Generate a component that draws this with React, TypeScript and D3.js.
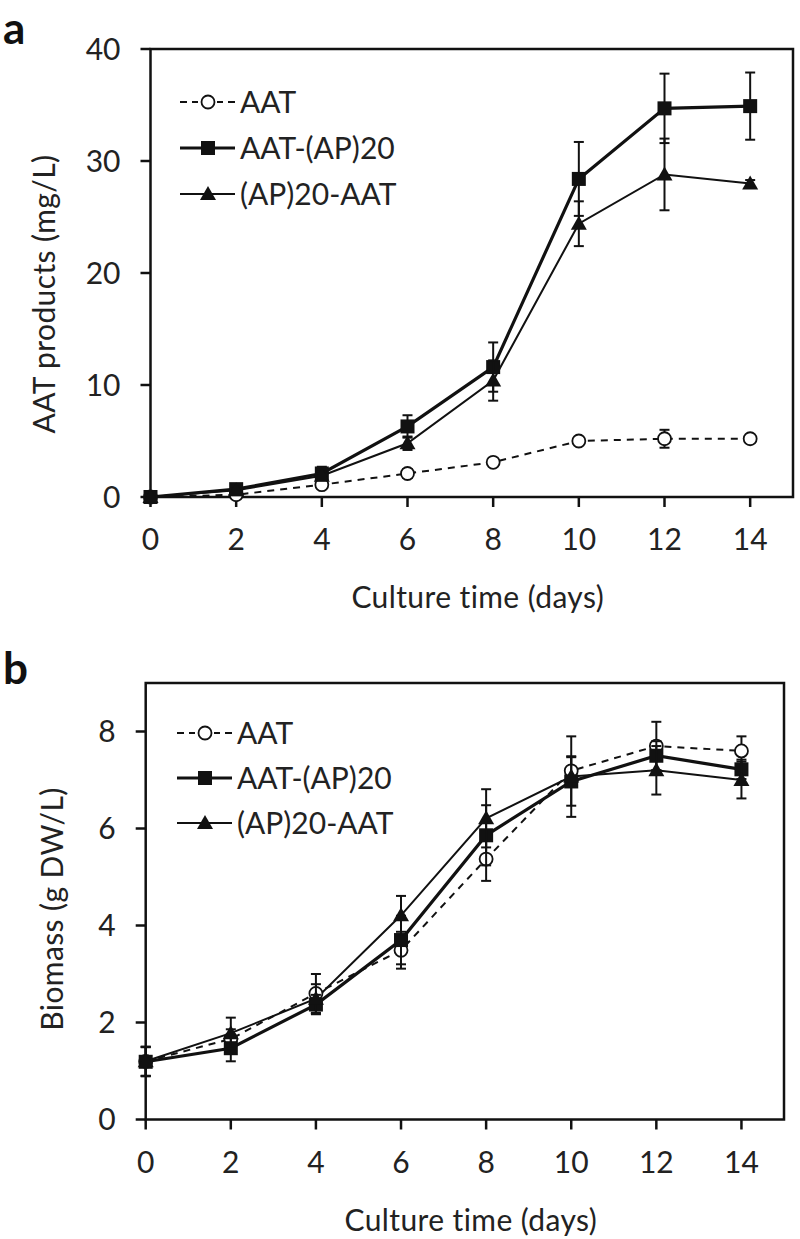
import React from "react";
import * as d3 from "d3";

const days = [0, 2, 4, 6, 8, 10, 12, 14];

// Panel a: AAT products (mg/L)
const aatProd = [0, 0.2, 1.1, 2.1, 3.1, 5.0, 5.2, 5.2];
const aatProdErr = [0.1, 0.2, 0.3, 0.4, 0.3, 0.3, 0.8, 0.3];
const aatApProd = [0, 0.7, 2.1, 6.3, 11.6, 28.4, 34.7, 34.9];
const aatApProdErr = [0.1, 0.3, 0.6, 1.0, 2.2, 3.3, 3.1, 3.0];
const apAatProd = [0, 0.6, 1.9, 4.8, 10.4, 24.4, 28.8, 28.0];
const apAatProdErr = [0.1, 0.2, 0.4, 0.6, 1.8, 2.0, 3.2, 0.3];

// Panel b: Biomass (g DW/L)
const aatBio = [1.2, 1.66, 2.6, 3.49, 5.37, 7.19, 7.7, 7.6];
const aatBioErr = [0.3, 0.2, 0.4, 0.38, 0.45, 0.3, 0.5, 0.3];
const aatApBio = [1.19, 1.47, 2.37, 3.7, 5.86, 6.97, 7.5, 7.22];
const aatApBioErr = [0.3, 0.27, 0.2, 0.5, 0.62, 0.5, 0.3, 0.2];
const apAatBio = [1.2, 1.78, 2.49, 4.21, 6.21, 7.07, 7.2, 7.0];
const apAatBioErr = [0.3, 0.32, 0.3, 0.4, 0.6, 0.83, 0.5, 0.38];

const seriesNames = ["AAT", "AAT-(AP)20", "(AP)20-AAT"];
const xTicks = [0, 2, 4, 6, 8, 10, 12, 14];
const yTicksA = [0, 10, 20, 30, 40];
const yTicksB = [0, 2, 4, 6, 8];

const FONT = "Lato, 'Open Sans', sans-serif";
const FS = 30;

type Series = { name: string; values: number[]; errs: number[]; kind: "circle" | "square" | "triangle" };

function Marker({ kind, cx, cy }: { kind: string; cx: number; cy: number }) {
  if (kind === "circle") return <circle cx={cx} cy={cy} r={6.5} fill="#fff" stroke="#111" strokeWidth={1.8} />;
  if (kind === "square") return <rect x={cx - 7} y={cy - 7} width={14} height={14} fill="#111" />;
  const s = 8;
  return <path d={`M${cx},${cy - s}L${cx + s},${cy + s * 0.75}L${cx - s},${cy + s * 0.75}Z`} fill="#111" />;
}

function lineStyle(kind: string) {
  if (kind === "circle") return { strokeWidth: 2, dash: "7,6" };
  if (kind === "square") return { strokeWidth: 3.2, dash: undefined };
  return { strokeWidth: 2, dash: undefined };
}

function Panel(props: {
  label: string; series: Series[]; yMax: number; yTicks: number[];
  left: number; right: number; top: number; bottom: number;
  yTitle: string; yTitleX: number; yTitleY: number;
  legendX: number; legendY: number; legendGap: number; labelY: number;
}) {
  const { series, yMax, yTicks, left, right, top, bottom } = props;
  const x = d3.scaleLinear().domain([0, 15]).range([left, right]);
  const y = d3.scaleLinear().domain([0, yMax]).range([bottom, top]);
  const line = d3.line<number>().x((_, i) => x(days[i])).y((v) => y(v));
  const cx = (left + right) / 2 + 6;
  return (
    <g>
      <text x={3} y={props.labelY} fontFamily={FONT} fontWeight={700} fontSize={44} fill="#111">{props.label}</text>
      <rect x={left} y={top} width={right - left} height={bottom - top} fill="none" stroke="#111" strokeWidth={2.5} />
      {yTicks.map((t) => (
        <g key={"y" + t}>
          <line x1={left - 10} x2={left} y1={y(t)} y2={y(t)} stroke="#111" strokeWidth={2.5} />
          <text x={left - 30} y={y(t) + 10.5} textAnchor="end" fontFamily={FONT} fontSize={FS} fill="#222">{t}</text>
        </g>
      ))}
      {xTicks.map((t) => (
        <g key={"x" + t}>
          <line x1={x(t)} x2={x(t)} y1={bottom} y2={bottom + 10} stroke="#111" strokeWidth={2.5} />
          <text x={x(t)} y={bottom + 53} textAnchor="middle" fontFamily={FONT} fontSize={FS} fill="#222">{t}</text>
        </g>
      ))}
      <text x={cx} y={bottom + 111} textAnchor="middle" fontFamily={FONT} fontSize={FS} letterSpacing={0.4} fill="#222">Culture time (days)</text>
      <text transform={`translate(${props.yTitleX},${props.yTitleY}) rotate(-90)`} textAnchor="middle" fontFamily={FONT} fontSize={FS} letterSpacing={0.4} fill="#222">{props.yTitle}</text>
      {series.map((s) => {
        const st = lineStyle(s.kind);
        return <path key={"l" + s.name} d={line(s.values) || ""} fill="none" stroke="#111" strokeWidth={st.strokeWidth} strokeDasharray={st.dash} />;
      })}
      {series.map((s) => (
        <g key={"m" + s.name}>
          {s.values.map((v, i) => {
            const px = x(days[i]);
            const y1 = y(v + s.errs[i]);
            const y2 = y(Math.max(0, v - s.errs[i]));
            return (
              <g key={i}>
                <line x1={px} x2={px} y1={y1} y2={y2} stroke="#111" strokeWidth={2} />
                <line x1={px - 5} x2={px + 5} y1={y1} y2={y1} stroke="#111" strokeWidth={2} />
                <line x1={px - 5} x2={px + 5} y1={y2} y2={y2} stroke="#111" strokeWidth={2} />
                <Marker kind={s.kind} cx={px} cy={y(v)} />
              </g>
            );
          })}
        </g>
      ))}
      {series.map((s, i) => {
        const ly = props.legendY + i * props.legendGap;
        const st = lineStyle(s.kind);
        return (
          <g key={"lg" + s.name}>
            <line x1={props.legendX} x2={props.legendX + 55} y1={ly} y2={ly} stroke="#111" strokeWidth={st.strokeWidth} strokeDasharray={s.kind === "circle" ? "7,5" : undefined} />
            {s.kind === "circle" && <rect x={props.legendX + 18} y={ly - 5} width={19} height={10} fill="#fff" />}
            <Marker kind={s.kind} cx={props.legendX + 28} cy={ly} />
            <text x={props.legendX + 60} y={ly + 11} fontFamily={FONT} fontSize={FS} fill="#222">{s.name}</text>
          </g>
        );
      })}
    </g>
  );
}

export default function App() {
  const seriesA: Series[] = [
    { name: seriesNames[0], values: aatProd, errs: aatProdErr, kind: "circle" },
    { name: seriesNames[1], values: aatApProd, errs: aatApProdErr, kind: "square" },
    { name: seriesNames[2], values: apAatProd, errs: apAatProdErr, kind: "triangle" },
  ];
  const seriesB: Series[] = [
    { name: seriesNames[0], values: aatBio, errs: aatBioErr, kind: "circle" },
    { name: seriesNames[1], values: aatApBio, errs: aatApBioErr, kind: "square" },
    { name: seriesNames[2], values: apAatBio, errs: apAatBioErr, kind: "triangle" },
  ];
  return (
    <svg width={800} height={1239} style={{ position: "absolute", left: 0, top: 0, display: "block", background: "#fff" }}>
      <rect width={800} height={1239} fill="#fff" />
      <Panel label="a" series={seriesA} yMax={40} yTicks={yTicksA}
        left={150.5} right={793} top={49} bottom={497}
        yTitle="AAT products (mg/L)" yTitleX={55} yTitleY={294}
        legendX={180} legendY={102} legendGap={46} labelY={44} />
      <Panel label="b" series={seriesB} yMax={9} yTicks={yTicksB}
        left={145.7} right={784} top={683} bottom={1119.5}
        yTitle="Biomass (g DW/L)" yTitleX={63} yTitleY={909}
        legendX={177} legendY={733} legendGap={45} labelY={684} />
    </svg>
  );
}
